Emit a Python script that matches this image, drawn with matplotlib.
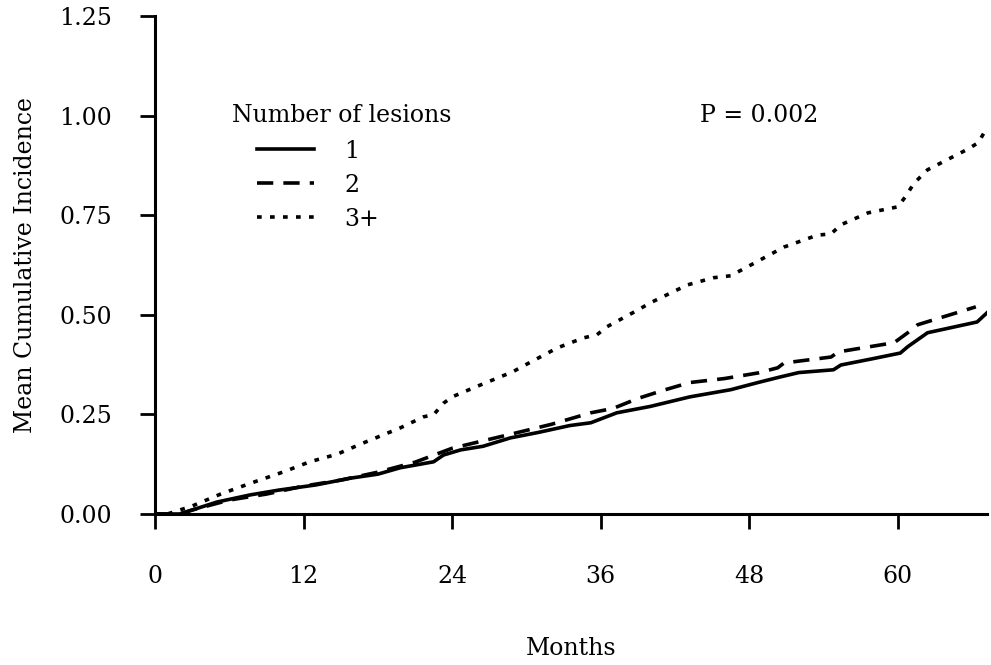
import matplotlib
matplotlib.use("Agg")
import matplotlib.pyplot as plt
from matplotlib.ticker import FormatStrFormatter

plt.rcParams["font.family"] = "DejaVu Serif"

# months / mean cumulative incidence
months_1 = [0, 2, 3, 5, 7.7, 10, 13, 15.8, 18, 19.8, 22.5, 23.3, 24.7, 26.5, 28.7,
            31, 33.5, 35.2, 37.3, 40, 43.2, 46.5, 48.7, 50.5, 52, 54.8, 55.4, 58,
            60.2, 60.8, 62.4, 66.4, 67.2]
inc_1 = [0, 0, 0.01, 0.03, 0.048, 0.06, 0.073, 0.09, 0.10, 0.116, 0.131, 0.148,
         0.161, 0.17, 0.191, 0.205, 0.222, 0.229, 0.254, 0.27, 0.294, 0.312, 0.33,
         0.344, 0.355, 0.362, 0.374, 0.39, 0.404, 0.42, 0.455, 0.482, 0.505]

months_2 = [0, 2, 3, 6, 9, 12, 15, 18, 21, 24, 26, 28.7, 32, 35.2, 37, 39, 41,
            43.2, 46, 48.7, 50.3, 50.8, 54.6, 55.2, 59.7, 60.8, 61.6, 66.3]
inc_2 = [0, 0, 0.01, 0.035, 0.05, 0.07, 0.085, 0.105, 0.13, 0.165, 0.18, 0.2,
         0.225, 0.254, 0.265, 0.29, 0.31, 0.33, 0.34, 0.354, 0.367, 0.379, 0.394,
         0.407, 0.43, 0.455, 0.475, 0.52]

months_3 = [0, 1, 3, 5.3, 7.7, 10.4, 12.5, 14.7, 16.8, 19.8, 21.7, 22.5, 23.3, 24,
            25.9, 28.9, 29.9, 32.5, 34.6, 35.7, 36.5, 39, 40, 43, 45.1, 46.5, 48.3,
            50.8, 53.5, 54.6, 55.4, 57.6, 60, 60.6, 61.3, 62.4, 65.6, 66.5, 67.2]
inc_3 = [0, 0, 0.02, 0.05, 0.077, 0.106, 0.131, 0.15, 0.178, 0.216, 0.244, 0.249,
         0.278, 0.294, 0.319, 0.357, 0.374, 0.417, 0.442, 0.45, 0.47, 0.512, 0.53,
         0.575, 0.593, 0.598, 0.628, 0.67, 0.70, 0.703, 0.726, 0.756, 0.771, 0.796,
         0.83, 0.864, 0.915, 0.932, 0.97]

group_labels = ["1", "2", "3+"]
x_ticks = [0, 12, 24, 36, 48, 60]
y_ticks = [0.0, 0.25, 0.5, 0.75, 1.0, 1.25]

fig = plt.figure(figsize=(9.91, 6.65), dpi=100)
ax = fig.add_axes([155 / 991, 1 - 514 / 665, 832 / 991, 498 / 665])

lw = 2.6
ax.plot(months_1, inc_1, color="black", lw=lw, ls="-", label=group_labels[0])
ax.plot(months_2, inc_2, color="black", lw=lw, ls=(0, (4.5, 2.8)), label=group_labels[1])
ax.plot(months_3, inc_3, color="black", lw=lw, ls=(0, (1.3, 2.3)), label=group_labels[2])

ax.set_xlim(0, 67.2)
ax.set_ylim(0, 1.25)
ax.set_xticks(x_ticks)
ax.set_yticks(y_ticks)
ax.yaxis.set_major_formatter(FormatStrFormatter("%.2f"))

for side in ["top", "right"]:
    ax.spines[side].set_visible(False)
for side in ["left", "bottom"]:
    ax.spines[side].set_linewidth(2.2)
ax.tick_params(axis="both", direction="out", length=11, width=2.0, labelsize=17)
ax.tick_params(axis="y", pad=20)
ax.tick_params(axis="x", pad=26)

ax.set_xlabel("Months", fontsize=17, labelpad=35)
ax.set_ylabel("Mean Cumulative Incidence", fontsize=17, labelpad=16)

ax.text(0.0925, 0.80, "Number of lesions", transform=ax.transAxes,
        fontsize=17, ha="left", va="center")
ax.text(0.655, 0.80, "P = 0.002", transform=ax.transAxes,
        fontsize=17, ha="left", va="center")

ax.legend(loc="upper left", bbox_to_anchor=(0.1226, 0.752), frameon=False,
          fontsize=17, handlelength=2.4, handletextpad=1.3, labelspacing=0.47,
          borderpad=0, borderaxespad=0)

fig.savefig("out.png", dpi=100)
